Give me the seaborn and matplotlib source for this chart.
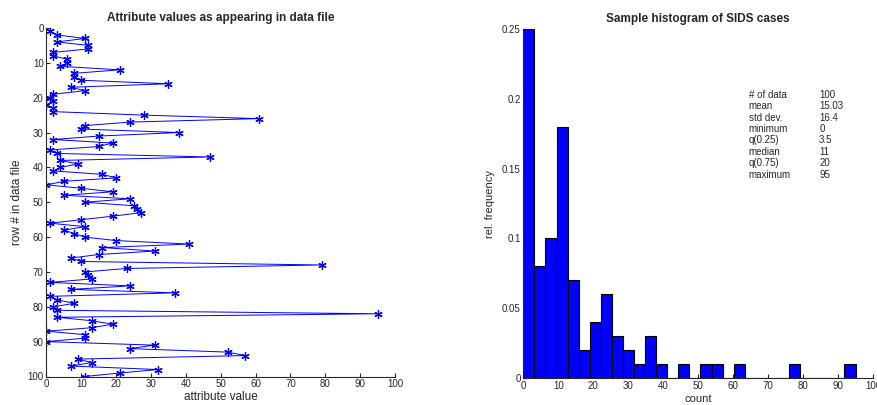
import numpy as np
import pandas as pd
import matplotlib
matplotlib.use("Agg")
import matplotlib.pyplot as plt
import seaborn as sns

# ---- data ----
row_index = list(range(1, 101))
attribute_values = [1, 3, 11, 3, 12, 12, 2, 2, 6, 6,
                    4, 21, 8, 8, 10, 35, 7, 11, 2, 1,
                    2, 0, 2, 2, 28, 61, 24, 11, 10, 38,
                    15, 2, 19, 15, 1, 3, 47, 4, 9, 4,
                    2, 16, 20, 5, 0, 10, 19, 5, 24, 11,
                    25, 26, 27, 19, 10, 1, 11, 5, 8, 11,
                    20, 41, 16, 31, 15, 7, 10, 79, 23, 11,
                    12, 13, 1, 24, 7, 37, 1, 3, 8, 2,
                    3, 95, 3, 13, 19, 13, 0, 11, 11, 0,
                    31, 24, 52, 57, 9, 13, 7, 32, 21, 11]

# histogram relative frequencies (30 bins between 0 and 95), as shown
hist_rel_freq = [0.25, 0.08, 0.10, 0.18, 0.07, 0.02, 0.04, 0.06, 0.03, 0.02,
                 0.01, 0.03, 0.01, 0.00, 0.01, 0.00, 0.01, 0.01, 0.00, 0.01,
                 0.00, 0.00, 0.00, 0.00, 0.01, 0.00, 0.00, 0.00, 0.00, 0.01]
hist_min, hist_max, n_bins = 0, 95, 30

stat_labels = ["# of data", "mean", "std dev.", "minimum", "q(0.25)",
               "median", "q(0.75)", "maximum"]
stat_values = ["100", "15.03", "16.4", "0", "3.5", "11", "20", "95"]

x_ticks = list(range(0, 101, 10))
y_ticks_left = list(range(0, 101, 10))
y_ticks_right = [0, 0.05, 0.1, 0.15, 0.2, 0.25]
y_ticklabels_right = ["0", "0.05", "0.1", "0.15", "0.2", "0.25"]

# ---- style ----
sns.set_style("ticks")
plt.rcParams["font.family"] = ["Liberation Sans", "DejaVu Sans"]
plt.rcParams["xtick.direction"] = "in"
plt.rcParams["ytick.direction"] = "in"
plt.rcParams["xtick.major.size"] = 3
plt.rcParams["ytick.major.size"] = 3
plt.rcParams["axes.linewidth"] = 0.8
plt.rcParams["xtick.major.width"] = 0.8
plt.rcParams["ytick.major.width"] = 0.8

fig = plt.figure(figsize=(8.78, 4.05), dpi=100)
ax1 = fig.add_axes([46.5 / 878, 1 - 376.5 / 405, 348.5 / 878, 348.5 / 405])
ax2 = fig.add_axes([523.3 / 878, 1 - 378.0 / 405, 349.7 / 878, 349.0 / 405])

TICK_FS = 7
TITLE_FS = 8.5

# ---- left: values as they appear in the file ----
df = pd.DataFrame({"row": row_index, "value": attribute_values})
sns.lineplot(data=df, x="value", y="row", sort=False, estimator=None,
             orient="y", ax=ax1, color="#0000ff", linewidth=0.7,
             marker=(6, 2, 0), markersize=6, markeredgewidth=0.9,
             markeredgecolor="#0000ff")
ax1.set_xlim(0, 100)
ax1.set_ylim(100, 0)
ax1.set_xticks(x_ticks)
ax1.set_yticks(y_ticks_left)
ax1.tick_params(labelsize=TICK_FS, pad=2)
ax1.set_xlabel("attribute value", fontsize=8.5, labelpad=1)
ax1.set_ylabel("row # in data file", fontsize=8.5, labelpad=3)
ax1.set_title("Attribute values as appearing in data file",
              fontsize=TITLE_FS, fontweight="bold", pad=5)
sns.despine(ax=ax1)

# ---- right: histogram ----
bin_width = (hist_max - hist_min) / n_bins
centers = [hist_min + (i + 0.5) * bin_width for i in range(n_bins)]
hdf = pd.DataFrame({"center": centers, "freq": hist_rel_freq})
sns.histplot(data=hdf, x="center", weights="freq", binwidth=bin_width,
             binrange=(hist_min, hist_max), stat="count",
             ax=ax2, color="#0000ff", alpha=1.0, edgecolor="black",
             linewidth=0.8)
ax2.set_xlim(0, 100)
ax2.set_ylim(0, 0.25)
ax2.set_xticks(x_ticks)
ax2.set_yticks(y_ticks_right)
ax2.set_yticklabels(y_ticklabels_right)
ax2.tick_params(labelsize=TICK_FS, pad=2)
ax2.set_xlabel("count", fontsize=8, labelpad=2)
ax2.set_ylabel("rel. frequency", fontsize=8, labelpad=5)
ax2.set_title("Sample histogram of SIDS cases",
              fontsize=TITLE_FS, fontweight="bold", pad=5)
sns.despine(ax=ax2)

for i, (lab, val) in enumerate(zip(stat_labels, stat_values)):
    y = 0.812 - i * 0.0328
    ax2.text(0.645, y, lab, transform=ax2.transAxes, fontsize=7,
             va="center", ha="left")
    ax2.text(0.846, y, val, transform=ax2.transAxes, fontsize=7,
             va="center", ha="left")

fig.savefig("out.png", dpi=100)
